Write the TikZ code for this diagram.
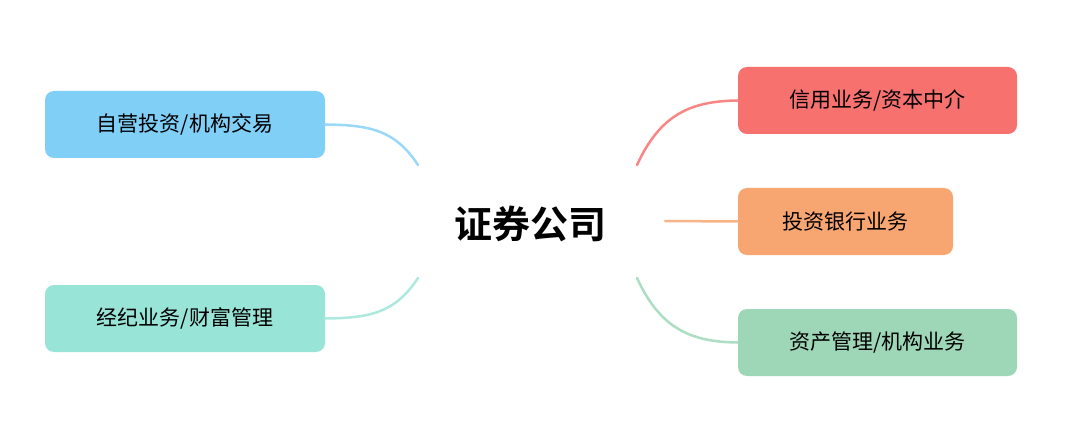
\documentclass[tikz,border=0pt]{standalone}
\usepackage{fontspec}
\newfontfamily\cjk{Noto Sans CJK SC}
\newfontfamily\cjkb{Noto Sans CJK SC Bold}
\begin{document}
\begin{tikzpicture}[x=1pt,y=-1pt,
  box/.style={rounded corners=9pt,minimum height=67pt,inner sep=0pt,font=\cjk\fontsize{21}{24}\selectfont,text=black},
  link/.style={line width=2.5pt,line cap=round}]
\useasboundingbox (0,0) rectangle (1080,441);
\definecolor{cA}{HTML}{80CFF7}\definecolor{cB}{HTML}{98E4D7}
\definecolor{cC}{HTML}{F7716F}\definecolor{cD}{HTML}{F7A672}\definecolor{cE}{HTML}{9ED7B8}
\node[font=\cjkb\fontsize{38}{42}\selectfont] (c) at (530,224) {证券公司};
\node[box,fill=cA,minimum width=280pt] (a) at (185,124.5) {自营投资/机构交易};
\node[box,fill=cB,minimum width=280pt] (b) at (185,318.5) {经纪业务/财富管理};
\node[box,fill=cC,minimum width=279pt] (r1) at (877.5,100.5) {信用业务/资本中介};
\node[box,fill=cD,minimum width=215pt] (r2) at (845.5,221.5) {投资银行业务};
\node[box,fill=cE,minimum width=279pt] (r3) at (877.5,342.5) {资产管理/机构业务};
\coordinate (p1) at (418,165);\coordinate (p2) at (418,278);
\coordinate (p3) at (637,165);\coordinate (p4) at (665,221);\coordinate (p5) at (637,278);
\draw[link,cA!80] (p1) .. controls (395,130) and (370,125) .. (a.east);
\draw[link,cB!80] (p2) .. controls (395,313) and (370,318) .. (b.east);
\draw[link,cC!85] (p3) .. controls (660,115) and (690,101) .. (r1.west);
\draw[link,cD!85] (p4) -- (r2.west);
\draw[link,cE!85] (p5) .. controls (660,328) and (690,342) .. (r3.west);
\end{tikzpicture}
\end{document}
